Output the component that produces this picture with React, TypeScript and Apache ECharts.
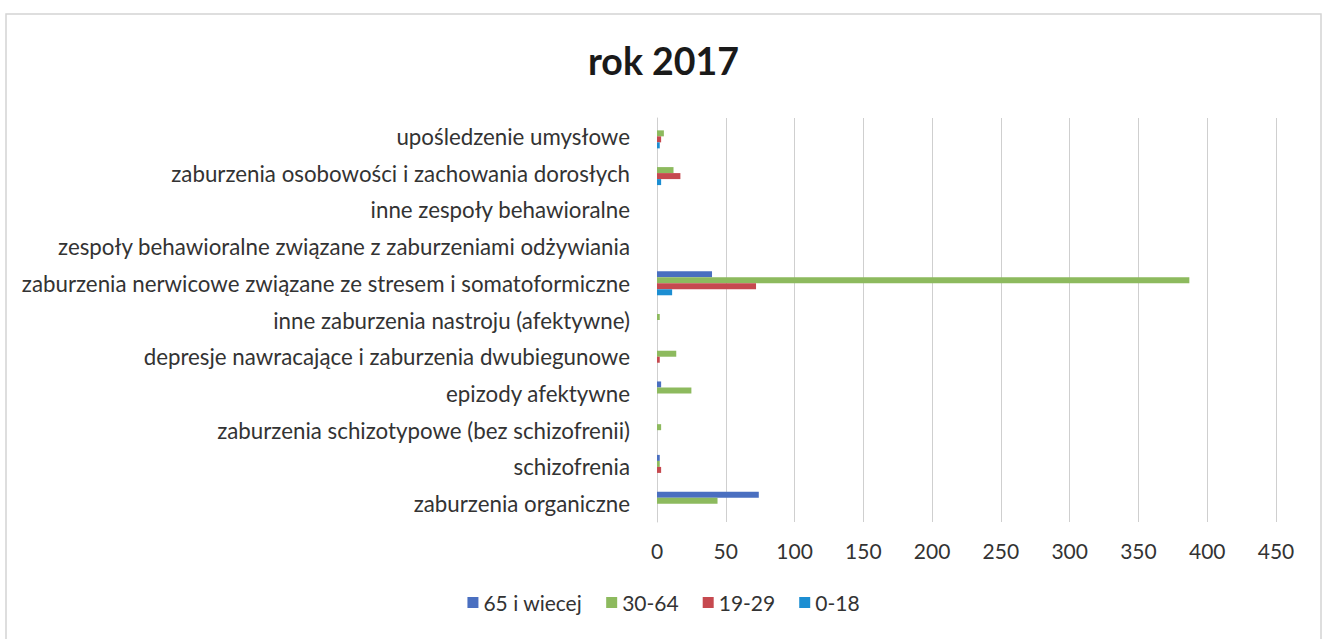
import React, { useEffect, useRef } from "react";
import * as echarts from "echarts";

const categories = [
  "zaburzenia organiczne",
  "schizofrenia",
  "zaburzenia schizotypowe (bez schizofrenii)",
  "epizody afektywne",
  "depresje nawracające i zaburzenia dwubiegunowe",
  "inne zaburzenia nastroju (afektywne)",
  "zaburzenia nerwicowe związane ze stresem i somatoformiczne",
  "zespoły behawioralne związane z zaburzeniami odżywiania",
  "inne zespoły behawioralne",
  "zaburzenia osobowości i zachowania dorosłych",
  "upośledzenie umysłowe",
];

const seriesNames = ["65 i wiecej", "30-64", "19-29", "0-18"];
const s65 = [74, 2, 0, 3, 0, 0, 40, 0, 0, 0, 0];
const s30 = [44, 2, 3, 25, 14, 2, 387, 0, 0, 12, 5];
const s19 = [0, 3, 0, 0, 2, 0, 72, 0, 0, 17, 3];
const s0 = [0, 0, 0, 0, 0, 0, 11, 0, 0, 3, 2];
const colors = ["#4a6fc0", "#8dba5e", "#c6494f", "#1c8ed2"];

export default function App() {
  const ref = useRef<HTMLDivElement>(null);
  useEffect(() => {
    document.body.style.margin = "0";
    const chart = echarts.init(ref.current!, null, { renderer: "svg" });
    const font = "Lato, Open Sans, sans-serif";
    const data = [s65, s30, s19, s0];
    chart.setOption({
      animation: false,
      backgroundColor: "#ffffff",
      title: {
        text: "rok 2017",
        left: "center",
        top: 36,
        textStyle: { fontFamily: font, fontSize: 37.5, fontWeight: "bold", color: "#1a1a1a" },
      },
      legend: {
        data: seriesNames,
        bottom: 21,
        left: "center",
        itemWidth: 11,
        itemHeight: 11,
        itemGap: 24,
        icon: "rect",
        textStyle: { fontFamily: font, fontSize: 21, color: "#333" },
      },
      graphic: [
        {
          type: "rect",
          shape: { x: 6, y: 14, width: 1315, height: 640 },
          style: { fill: "none", stroke: "#d4d4d4", lineWidth: 1.5 },
          silent: true,
        },
      ],
      grid: { left: 657, right: 51, top: 118, bottom: 117, containLabel: false },
      xAxis: {
        type: "value",
        min: 0,
        max: 450,
        interval: 50,
        axisLine: { show: false },
        axisTick: { show: false },
        splitLine: { show: true, lineStyle: { color: "#cfcfcf", width: 1 } },
        axisLabel: { fontFamily: font, fontSize: 21, color: "#333", margin: 18 },
      },
      yAxis: {
        type: "category",
        data: categories,
        axisLine: { show: true, lineStyle: { color: "#cfcfcf" } },
        axisTick: { show: false },
        axisLabel: { fontFamily: font, fontSize: 22.3, color: "#333", margin: 27 },
      },
      series: seriesNames.map((name, i) => ({
        name,
        type: "bar",
        data: data[i],
        barWidth: 6,
        barGap: "0%",
        itemStyle: { color: colors[i] },
      })),
    });
    return () => chart.dispose();
  }, []);
  return <div ref={ref} style={{ width: 1327, height: 639 }} />;
}
